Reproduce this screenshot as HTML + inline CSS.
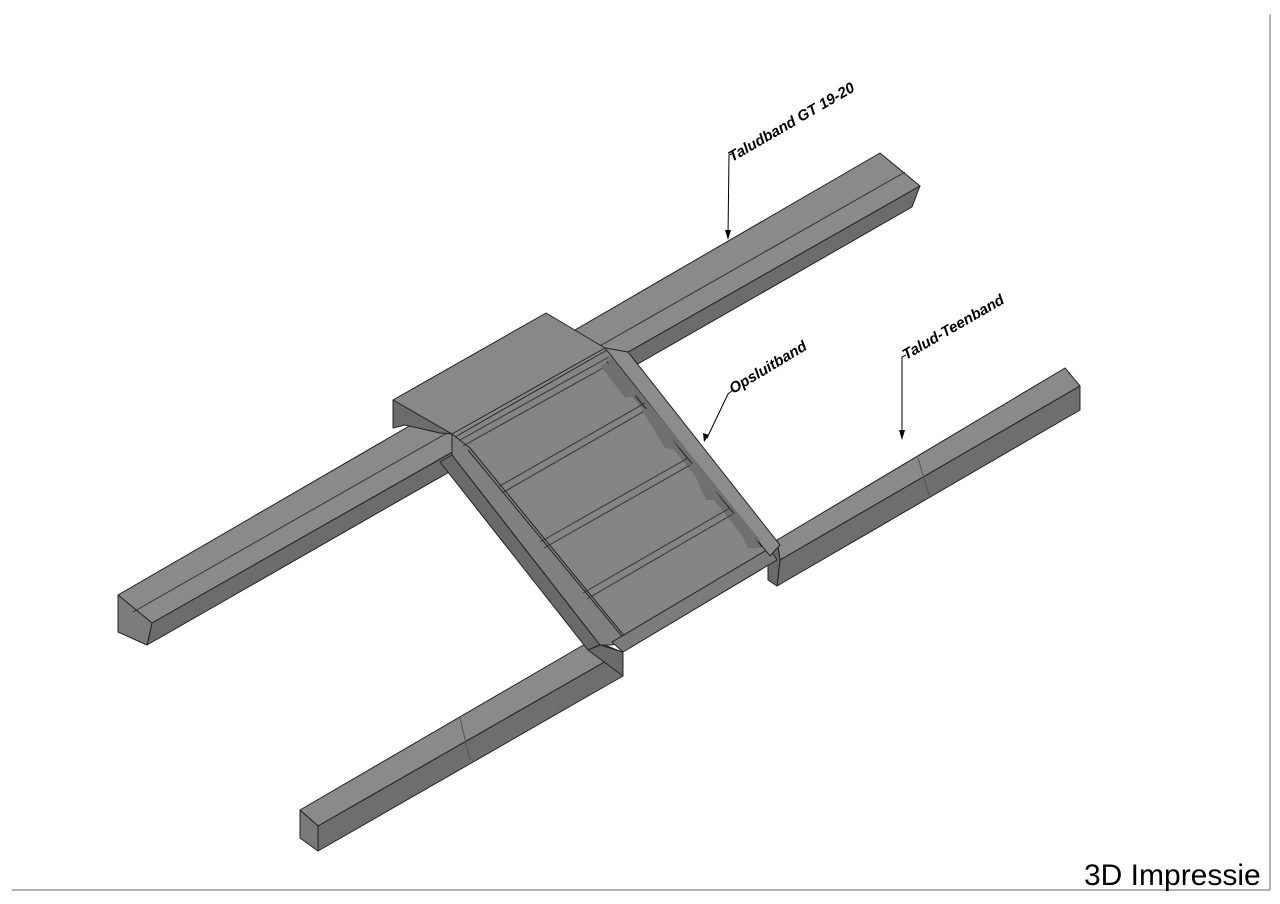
<!DOCTYPE html>
<html><head><meta charset="utf-8"><style>
html,body{margin:0;padding:0;background:#fff;width:1280px;height:904px;overflow:hidden}
svg{display:block}
text{font-family:"Liberation Sans",sans-serif;font-weight:bold;font-style:italic;font-size:15px;fill:#000}
</style></head><body>
<svg width="1280" height="904" viewBox="0 0 1280 904" xmlns="http://www.w3.org/2000/svg">
<g stroke="#222" stroke-width="1" stroke-linejoin="round">
<polygon points="118,595 880,153 920,186 152,623" fill="#8a8a8a"/>
<polygon points="152,623 920,186 912,207 147,645" fill="#6c6c6c"/>
<polygon points="118,595 152,623 147,645 118,632" fill="#7c7c7c"/>
<line x1="133" y1="612" x2="905" y2="172" stroke="#333"/>
<polygon points="777,540 1065,368 1080,386 780,560" fill="#8a8a8a"/>
<polygon points="780,560 1080,386 1080,410 777,586" fill="#6e6e6e"/>
<polygon points="768,545 777,540 780,560 777,586 768,580" fill="#6a6a6a"/>
<line x1="918" y1="458" x2="930" y2="498" stroke="#555"/>
<polygon points="300,810 592,640 622,652 318,826" fill="#8a8a8a"/>
<polygon points="318,826 622,652 623,676 318,851" fill="#6e6e6e"/>
<polygon points="300,810 318,826 318,851 300,838" fill="#7a7a7a"/>
<line x1="460" y1="718" x2="470" y2="760" stroke="#555"/>
<polygon points="455,437 607,350 770,548 622,640" fill="#858585"/>
<polygon points="440,462 452,455 600,645 588,650" fill="#6a6a6a"/>
<polygon points="452,434 470,448 626,638 612,645 600,645 452,455" fill="#808080"/>
<line x1="468" y1="450" x2="625" y2="640"/>
<polygon points="612,642 770,548 777,560 623,652" fill="#7c7c7c"/>
<polygon points="588,650 600,645 623,652 623,676" fill="#6a6a6a"/>
<polygon points="605,348 628,352 780,545 770,556" fill="#8c8c8c"/>
<polygon points="605,362 612,358 760,540 752,548" fill="#6f6f6f" stroke="none"/>
<line x1="607" y1="362" x2="762" y2="547"/>
<polygon points="393,400 546,313 605,348 452,434" fill="#888"/>
<polygon points="393,400 452,434 440,433 405,425 393,428" fill="#6c6c6c"/>
<g fill="none" stroke="#333">
<line x1="460" y1="440" x2="609" y2="357"/><line x1="463" y1="446" x2="612" y2="363"/>
<line x1="498" y1="487" x2="645" y2="403"/><line x1="502" y1="493" x2="648" y2="409"/>
<line x1="540" y1="542" x2="688" y2="458"/><line x1="544" y1="548" x2="692" y2="464"/>
<line x1="583" y1="593" x2="730" y2="508"/><line x1="587" y1="599" x2="733" y2="514"/>
</g>
<g fill="#707070" stroke="none">
<polygon points="600,365 612,363 640,395 625,398"/>
<polygon points="642,410 650,408 680,450 665,448"/>
<polygon points="690,465 695,462 722,500 706,500"/>
<polygon points="732,515 737,512 762,548 748,548"/>
</g>
</g>
<g stroke="#000" stroke-width="1" fill="none">
<polyline points="734,153 729,155 728,236"/>
<polyline points="733,390 728,394 707,438"/>
<polyline points="906,355 902,357 902,436"/>
</g>
<g fill="#000">
<polygon points="725,230 731,230 728,240"/>
<polygon points="703,433 709,435 704,442"/>
<polygon points="899,430 905,430 902,440"/>
</g>
<text transform="translate(732,162) rotate(-30)">Taludband GT 19-20</text>
<text transform="translate(733,394) rotate(-31)">Opsluitband</text>
<text transform="translate(906,360) rotate(-30)">Talud-Teenband</text>
<line x1="1270" y1="14" x2="1270" y2="890" stroke="#666" stroke-width="1"/>
<line x1="12" y1="890" x2="1270" y2="890" stroke="#666" stroke-width="1"/>
<text x="1084" y="885" style="font-style:normal;font-weight:normal;font-size:30px">3D Impressie</text>
</svg>
</body></html>
